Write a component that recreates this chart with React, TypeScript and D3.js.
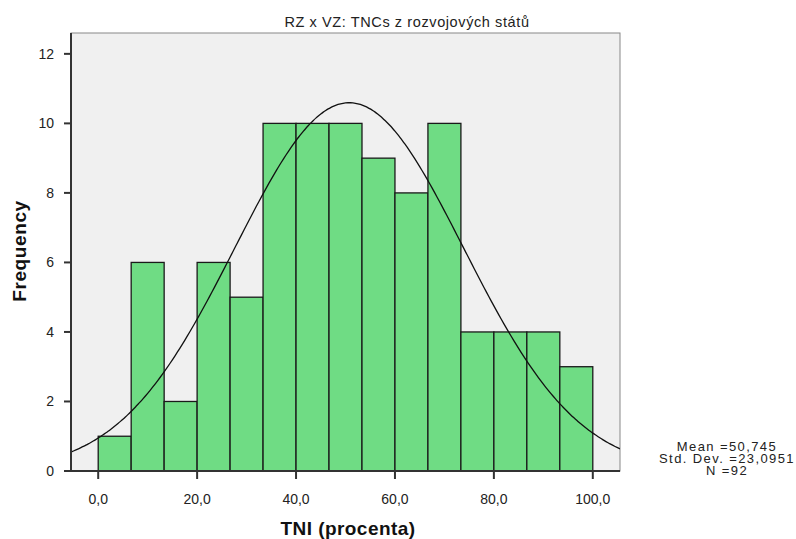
import React from "react";
import * as d3 from "d3";

const binStarts = [0, 6.667, 13.333, 20, 26.667, 33.333, 40, 46.667, 53.333, 60, 66.667, 73.333, 80, 86.667, 93.333];
const binWidth = 100 / 15;
const counts = [1, 6, 2, 6, 5, 10, 10, 10, 9, 8, 10, 4, 4, 4, 3];
const xTicks = [0, 20, 40, 60, 80, 100];
const yTicks = [0, 2, 4, 6, 8, 10, 12];
const mean = 50.745;
const sd = 23.0951;
const n = 92;
const statLines = ["Mean =50,745", "Std. Dev. =23,0951", "N =92"];
const title = "RZ x VZ: TNCs z rozvojových států";

const W = 796, H = 539;
const L = 71, R = 620, T = 33, B = 471;
const FONT = "Arial, 'Liberation Sans', sans-serif";

export default function App() {
  const x = d3.scaleLinear().domain([-5.5, 105.5]).range([L, R]);
  const y = d3.scaleLinear().domain([0, 12.6]).range([B, T]);
  const fmt = (v: number) => v.toFixed(1).replace(".", ",");
  const curvePts = d3.range(-5.5, 105.51, 0.5).map((v) => {
    const z = (v - mean) / sd;
    const f = (n * binWidth) / (sd * Math.sqrt(2 * Math.PI)) * Math.exp(-0.5 * z * z);
    return [v, f] as [number, number];
  });
  const line = d3.line<[number, number]>().x((d) => x(d[0])).y((d) => y(d[1])).curve(d3.curveBasis);
  return (
    <svg width={W} height={H} style={{ position: "absolute", left: 0, top: 0 }} fontFamily={FONT}>
      <rect x={0} y={0} width={W} height={H} fill="#fff" />
      <rect x={L} y={T} width={R - L} height={B - T} fill="#f0f0f0" stroke="#888" strokeWidth={1} />
      {counts.map((c, i) => (
        <rect
          key={i}
          x={x(binStarts[i])}
          y={y(c)}
          width={x(binStarts[i] + binWidth) - x(binStarts[i])}
          height={y(0) - y(c)}
          fill="#6fdc84"
          stroke="#1a1a1a"
          strokeWidth={1.3}
        />
      ))}
      <defs>
        <clipPath id="pc">
          <rect x={L} y={T} width={R - L} height={B - T} />
        </clipPath>
      </defs>
      <path d={line(curvePts) || ""} fill="none" stroke="#111" strokeWidth={1.3} clipPath="url(#pc)" />
      <line x1={L} x2={L} y1={T} y2={B + 1} stroke="#333" strokeWidth={2} />
      <line x1={L - 1} x2={R} y1={B} y2={B} stroke="#333" strokeWidth={2} />
      {yTicks.map((t) => (
        <g key={t}>
          <line x1={L - 7} x2={L} y1={y(t)} y2={y(t)} stroke="#333" strokeWidth={2} />
          <text x={54} y={y(t)} dy="0.35em" textAnchor="end" fontSize={14} fill="#222">{t}</text>
        </g>
      ))}
      {xTicks.map((t) => (
        <g key={t}>
          <line x1={x(t)} x2={x(t)} y1={B} y2={B + 8} stroke="#333" strokeWidth={2} />
          <text x={x(t)} y={504} textAnchor="middle" fontSize={14} fill="#222">{fmt(t)}</text>
        </g>
      ))}
      <text x={407} y={27} textAnchor="middle" fontSize={14.5} letterSpacing={0.6} fill="#222">{title}</text>
      <text x={348} y={535} textAnchor="middle" fontSize={19} letterSpacing={0.45} fontWeight="bold" fill="#111">TNI (procenta)</text>
      <text transform={`translate(26,251) rotate(-90)`} textAnchor="middle" fontSize={19} letterSpacing={0.6} fontWeight="bold" fill="#111">Frequency</text>
      {statLines.map((s, i) => (
        <text key={s} x={727} y={451 + i * 12} textAnchor="middle" fontSize={13} letterSpacing={1.4} fill="#222">{s}</text>
      ))}
    </svg>
  );
}
